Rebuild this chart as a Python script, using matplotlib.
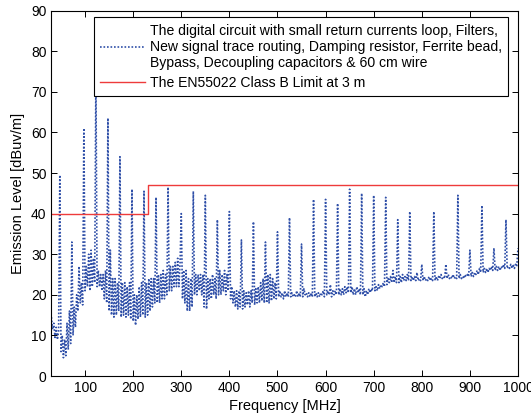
import numpy as np
import matplotlib
matplotlib.use('Agg')
import matplotlib.pyplot as plt

plt.rcParams['font.family'] = ['Liberation Sans', 'DejaVu Sans']

# frequency grid of the measurement, MHz
freq = np.arange(30, 1000.1, 2.5)

level = [
    14.5, 11.5, 13, 9.5, 12, 9, 11, 49.5, 6, 10,
    4.5, 9, 5, 13, 6.5, 16, 8, 33, 10, 17,
    12, 20, 16, 27, 18, 23, 17.5, 61, 21, 27,
    22, 30, 21, 31, 22, 29, 23, 74, 22, 26,
    22, 25, 21, 25, 19, 26, 18, 63.5, 16, 31,
    15, 24, 14.5, 24, 15, 23, 16, 54, 14.5, 23,
    15, 23, 14.5, 22, 15, 23, 14, 46, 13.5, 20,
    12.5, 20, 14, 22, 14.5, 23, 15, 45.5, 14.5, 23,
    15, 24, 16, 24, 17, 24, 18, 44, 18, 25,
    18, 25, 19, 26, 19, 25, 20, 46.5, 21, 27,
    21, 27, 22, 28, 22, 29, 22, 28, 40, 19,
    26, 18, 26, 16, 24, 16, 24, 17, 45.5, 20,
    25, 20, 25, 21, 25, 20, 25, 17, 44.5, 16.5,
    24, 19, 24, 19, 25, 20, 24, 19, 38.5, 20,
    26, 20, 25, 21, 26, 20, 25, 21, 40.5, 19,
    22, 18, 21, 17, 21, 16.5, 21, 17, 33.5, 16.5,
    21, 17, 20.5, 17.5, 21, 17, 21, 18, 38, 17.5,
    21.5, 18, 22, 18, 23, 18.5, 24, 18, 33, 18,
    25, 18, 25, 18.5, 24, 19, 23, 19, 35.5, 19.5,
    21, 19.5, 20.5, 19, 21, 19.5, 20.5, 19.5, 39, 19.5,
    20.5, 19.5, 20, 19.5, 21, 19.5, 20.5, 19.5, 32.5, 19.5,
    21.5, 20, 20.5, 19.5, 20.5, 19.5, 20.5, 19.5, 43.5, 19.5,
    20.5, 19.5, 20.5, 19.5, 20.5, 20, 21, 19.5, 43.5, 20,
    21, 20, 22.5, 19.5, 21, 20, 21, 20, 42.5, 20,
    21.5, 20, 21.5, 20, 22, 20.5, 22, 20.5, 46, 20.5,
    22, 20, 21.5, 20, 22, 20.5, 21.5, 20, 45, 20,
    21.5, 19.5, 21, 20, 21.5, 20.5, 21.5, 21, 44.5, 21,
    22, 21, 22.5, 21.5, 22.5, 22, 23, 22, 44, 22.5,
    24, 23, 24.5, 23, 26, 23, 24.5, 23, 38.5, 23,
    24.5, 23, 25, 23.5, 24.5, 23.5, 25, 23.5, 40.5, 23.5,
    24.5, 23.5, 24.5, 23.5, 25.5, 23.5, 24, 23.5, 27.5, 23.5,
    24.5, 23.5, 24, 23.5, 24.5, 23.5, 24, 23.5, 40.5, 23.5,
    24.5, 23.5, 24.5, 24, 25, 24, 24.5, 24, 27.5, 24,
    25, 24, 24.5, 24, 25, 24, 24.5, 24, 44.5, 24,
    25, 24, 24.5, 24, 25, 24.5, 25, 24.5, 31, 24.5,
    25.5, 24.5, 25.5, 25, 26, 25, 26.5, 25.5, 42, 25.5,
    26.5, 25.5, 26.5, 25.5, 26.5, 26, 27, 26, 31.5, 26,
    27, 26, 27, 26, 27, 26.5, 27.5, 26.5, 38.5, 26.5,
    27, 26.5, 27.5, 26.5, 27.5, 26.5, 27.5, 27, 31.5,
]

# EN55022 class B limit at 3 m
limit_freq = [30, 230, 230, 1000]
limit_level = [40, 40, 47, 47]

fig = plt.figure(figsize=(5.31, 4.19), dpi=100)
ax = fig.add_axes([0.0968, 0.1026, 0.8787, 0.8721])

ax.plot(freq, level, color='#2F4FA8', linewidth=1.2, linestyle=(0, (1, 1.1)),
        label='The digital circuit with small return currents loop, Filters,\n'
              'New signal trace routing, Damping resistor, Ferrite bead,\n'
              'Bypass, Decoupling capacitors & 60 cm wire')
ax.plot(limit_freq, limit_level, color='#EE3B3B', linewidth=1.0,
        label='The EN55022 Class B Limit at 3 m')

ax.set_xlim(30, 1000)
ax.set_ylim(0, 90)
ax.set_xticks(range(100, 1001, 100))
ax.set_yticks(range(0, 91, 10))
ax.tick_params(direction='in', top=True, right=True, length=4, width=0.7, labelsize=10)
for s in ax.spines.values():
    s.set_linewidth(0.8)

ax.set_xlabel('Frequency [MHz]', fontsize=10.5, labelpad=3)
ax.set_ylabel('Emission Level [dBuv/m]', fontsize=10.5, labelpad=4)

leg = ax.legend(loc='upper right', bbox_to_anchor=(0.9786, 0.9817), borderaxespad=0,
                fancybox=False, edgecolor='black', framealpha=1, fontsize=10.1,
                handlelength=3.2, handletextpad=0.35, labelspacing=0.4, borderpad=0.45)
leg.get_frame().set_linewidth(0.8)

plt.savefig('out.png', dpi=100)
plt.close()
